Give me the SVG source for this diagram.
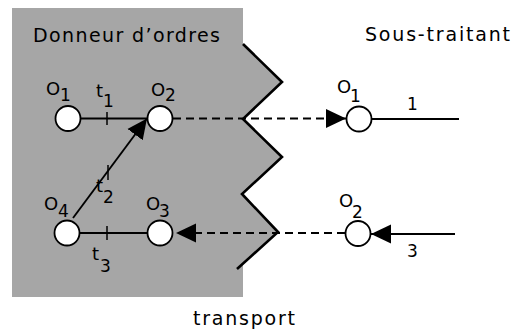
<svg xmlns="http://www.w3.org/2000/svg" width="518" height="333" viewBox="0 0 518 333">
<style>
text{font-family:"DejaVu Sans","Liberation Sans",sans-serif;fill:#000}
.title{font-size:19px}
.o{font-size:18px}
.sub{font-size:17px}
.node{fill:#fff;stroke:#000;stroke-width:1.8}
.ln{stroke:#000;stroke-width:1.9;fill:none}
.dash{stroke:#000;stroke-width:1.8;fill:none;stroke-dasharray:8 5}
.tick{stroke:#000;stroke-width:1.5}
</style>
<defs>
<marker id="ah" markerUnits="userSpaceOnUse" markerWidth="20" markerHeight="20" refX="20" refY="10" orient="auto" viewBox="0 0 20 20">
<path d="M0,0.5 L20,10 L0,19.5 Z" fill="#000"/>
</marker>
</defs>
<g id="background">
<polygon points="12,8 243,8 243,44 282,82 243,119 282,157 242,194 278,232 243,264 243,297 12,297" fill="#a6a6a6"/>
<polyline points="243,44 282,82 243,119 282,157 242,194 278,232 237,269" fill="none" stroke="#000" stroke-width="2.6" stroke-linejoin="miter"/>
<text class="title" x="33" y="42" textLength="187" lengthAdjust="spacing">Donneur d’ordres</text>
<text class="title" x="365" y="41" textLength="145" lengthAdjust="spacing">Sous-traitant</text>
<text class="title" x="193" y="325" textLength="102" lengthAdjust="spacing">transport</text>
</g>
<g id="connectors">
<line class="ln" x1="81" y1="118.5" x2="147" y2="118.5"/>
<line class="tick" x1="107" y1="112" x2="107" y2="125"/>
<text class="o" x="96" y="97">t</text><text class="sub" x="103" y="107">1</text>
<line class="ln" x1="73" y1="218" x2="147" y2="118.5" marker-end="url(#ah)"/>
<line class="tick" x1="108" y1="165" x2="108" y2="180"/>
<text class="o" x="96" y="192">t</text><text class="sub" x="103" y="203">2</text>
<line class="ln" x1="80" y1="233" x2="147" y2="233"/>
<line class="tick" x1="107" y1="226" x2="107" y2="240"/>
<text class="o" x="92" y="260">t</text><text class="sub" x="100" y="272">3</text>
<line class="dash" x1="173" y1="118.5" x2="346" y2="118.5" marker-end="url(#ah)"/>
<line class="dash" x1="345" y1="233" x2="176" y2="233" marker-end="url(#ah)"/>
<line class="ln" x1="372" y1="119" x2="459" y2="119"/>
<text class="sub" x="407" y="110">1</text>
<line class="ln" x1="455" y1="234" x2="371" y2="234" marker-end="url(#ah)"/>
<text class="sub" x="407" y="257">3</text>
</g>
<g id="o1-donneur">
<circle class="node" cx="68" cy="118.5" r="12.5"/>
<text class="o" x="46" y="95">O</text><text class="sub" x="60" y="101">1</text>
</g>
<g id="o2-donneur">
<circle class="node" cx="160" cy="118.5" r="12.5"/>
<text class="o" x="151" y="96">O</text><text class="sub" x="165" y="101">2</text>
</g>
<g id="o4-donneur">
<circle class="node" cx="67" cy="233" r="12.5"/>
<text class="o" x="44" y="210">O</text><text class="sub" x="58" y="217">4</text>
</g>
<g id="o3-donneur">
<circle class="node" cx="160" cy="233" r="12.5"/>
<text class="o" x="146" y="210">O</text><text class="sub" x="159" y="217">3</text>
</g>
<g id="o1-sous-traitant">
<circle class="node" cx="359" cy="119" r="12.5"/>
<text class="o" x="337" y="93">O</text><text class="sub" x="350" y="102">1</text>
</g>
<g id="o2-sous-traitant">
<circle class="node" cx="358" cy="233.5" r="12.5"/>
<text class="o" x="339" y="207">O</text><text class="sub" x="352" y="218">2</text>
</g>
</svg>
